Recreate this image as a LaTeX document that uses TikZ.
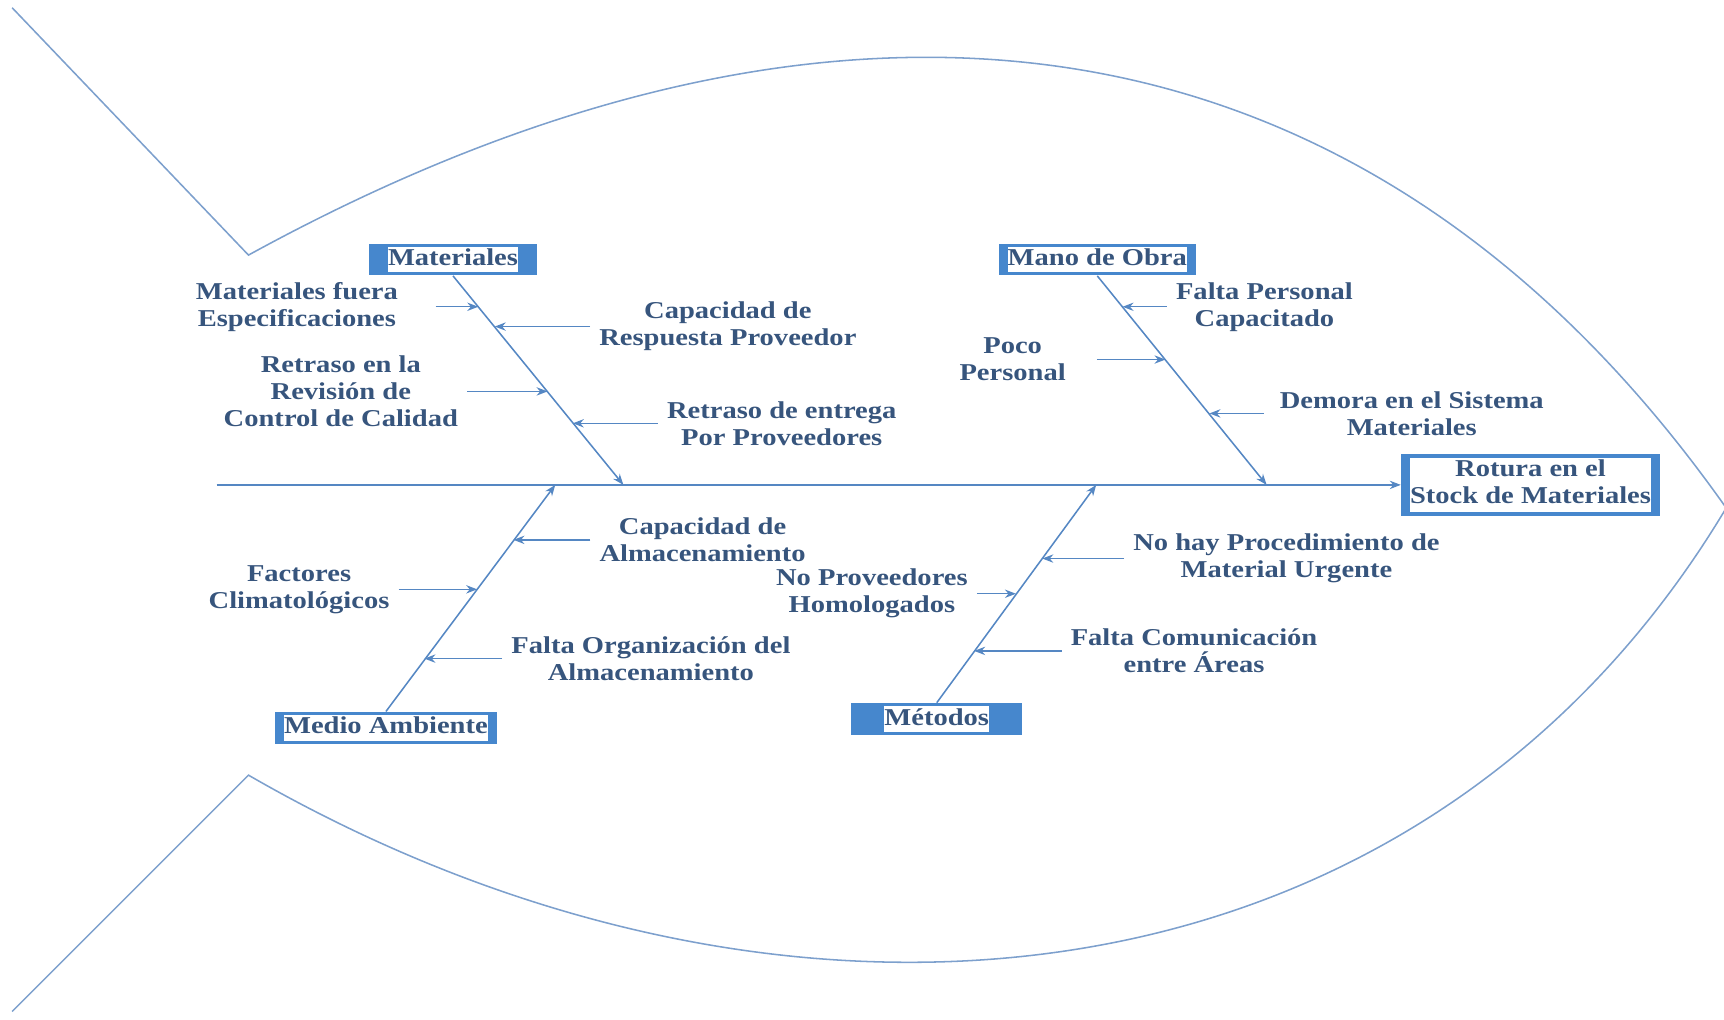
\documentclass[tikz,border=0pt]{standalone}
\usepackage{fontspec}
\setmainfont{Liberation Serif}[FakeStretch=1.18]
\usepackage{tikz}
\usetikzlibrary{positioning, arrows.meta}
\definecolor{fishline}{RGB}{125,160,205}
\definecolor{bone}{RGB}{85,135,195}
\definecolor{boxblue}{RGB}{70,135,205}
\definecolor{txtblue}{RGB}{55,85,125}
\setlength{\fboxsep}{0pt}
\newcommand{\boxtext}[1]{\colorbox{white}{\rule[-3pt]{0pt}{11.5pt}#1}}
\tikzset{
	>={Stealth[length=5pt,width=3.8pt]}, % small filled arrow heads
	x=0.5pt, y=-0.5pt, % one unit is one pixel of the sketch, y goes down
	every node/.style={font=\fontsize{11}{12.3}\selectfont\bfseries, text=txtblue}, % bold serif text
	cause/.style={align=center, inner sep=4pt}, % text of the small causes
	catbox/.style={fill=boxblue, inner ysep=1.5pt}, % blue boxes with white text field
	bonearrow/.style={->, draw=bone, line width=0.7pt}, % spine and main bones
	sub/.style={->, draw=bone, line width=0.6pt}, % arrows of the causes
	fish/.style={draw=fishline, line width=0.7pt}, % outline of the fish
}

\begin{document}
\begin{tikzpicture}
	\useasboundingbox (0,0) rectangle (1568,927);
	% outline of the fish
	\draw[fish] (11,7) -- (226,232) .. controls (740,-50) and (1230,-20) .. (1570,462)
		.. controls (1290,930) and (711,985) .. (226,705) -- (11,920);

	% head and spine
	\node[catbox, inner xsep=4pt, inner ysep=1.8pt] (effect) at (1392,441)
		{\boxtext{\begin{tabular}{@{}c@{}}Rotura en el\\Stock de Materiales\end{tabular}}};
	\coordinate (tail) at (197,441);
	\draw[bonearrow] (tail) -- (effect.west);

	% categories
	\node[catbox, inner xsep=8.7pt] (mat) at (412,236) {\boxtext{Materiales}};
	\node[catbox, inner xsep=4pt] (mano) at (998,236) {\boxtext{Mano de Obra}};
	\node[catbox, inner xsep=4.2pt] (medio) at (351,662) {\boxtext{Medio Ambiente}};
	\node[catbox, inner xsep=15pt] (met) at (852,654) {\boxtext{Métodos}};

	\coordinate (jmat) at (567,441);
	\coordinate (jmano) at (1152,441);
	\coordinate (jmedio) at (505,441);
	\coordinate (jmet) at (997,441);
	\draw[bonearrow] (mat.south) -- (jmat);
	\draw[bonearrow] (mano.south) -- (jmano);
	\draw[bonearrow] (medio.north) -- (jmedio);
	\draw[bonearrow] (met.north) -- (jmet);

	% Materiales
	\coordinate (m1) at (435,279);
	\coordinate (m2) at (450,297);
	\coordinate (m3) at (498,356);
	\coordinate (m4) at (521,385);
	\node[cause] (t1) at (270,279) {Materiales fuera\\Especificaciones};
	\node[cause] (t2) at (662,297) {Capacidad de\\Respuesta Proveedor};
	\node[cause] (t3) at (310,356) {Retraso en la\\Revisión de\\Control de Calidad};
	\node[cause] (t4) at (711,385) {Retraso de entrega\\Por Proveedores};
	\draw[sub, shorten <=13pt] (t1.east) -- (m1);
	\draw[sub] (t2.west) -- (m2);
	\draw[sub] (t3.east) -- (m3);
	\draw[sub] (t4.west) -- (m4);

	% Mano de Obra
	\coordinate (o1) at (1021,279);
	\coordinate (o2) at (1060,327);
	\coordinate (o3) at (1100,376);
	\node[cause] (t5) at (1150,279) {Falta Personal\\Capacitado};
	\node[cause] (t6) at (921,327) {Poco\\Personal};
	\node[cause] (t7) at (1284,376) {Demora en el Sistema\\Materiales};
	\draw[sub] (t5.west) -- (o1);
	\draw[sub, shorten <=10pt] (t6.east) -- (o2);
	\draw[sub, shorten <=3pt] (t7.west) -- (o3);

	% Medio Ambiente
	\coordinate (a1) at (467,491);
	\coordinate (a2) at (434,536);
	\coordinate (a3) at (386,599);
	\node[cause] (t8) at (639,491) {Capacidad de\\Almacenamiento};
	\node[cause] (t9) at (272,536) {Factores\\Climatológicos};
	\node[cause] (t10) at (592,599) {Falta Organización del\\Almacenamiento};
	\draw[sub] (t8.west) -- (a1);
	\draw[sub] (t9.east) -- (a2);
	\draw[sub] (t10.west) -- (a3);

	% Metodos
	\coordinate (e1) at (948,508);
	\coordinate (e2) at (924,540);
	\coordinate (e3) at (886,592);
	\node[cause] (t11) at (1170,508) {No hay Procedimiento de\\Material Urgente};
	\node[cause] (t12) at (793,540) {No Proveedores\\Homologados};
	\node[cause] (t13) at (1086,592) {Falta Comunicación\\entre Áreas};
	\draw[sub] (t11.west) -- (e1);
	\draw[sub] (t12.east) -- (e2);
	\draw[sub] (t13.west) -- (e3);
\end{tikzpicture}
\end{document}
